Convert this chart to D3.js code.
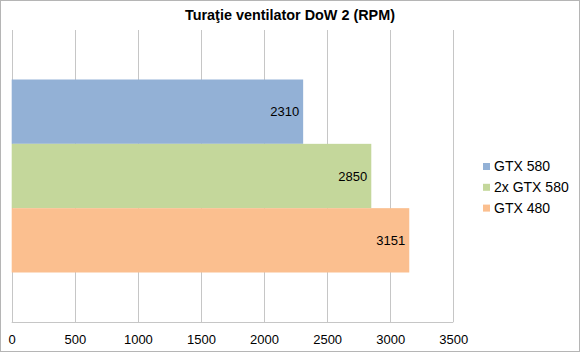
<!DOCTYPE html>
<html lang="ro">
<head>
<meta charset="utf-8">
<script src="https://d3js.org/d3.v7.min.js"></script>
<style>
    body { margin: 0; background: #fff; }
    svg { display: block; font-family: Arial, "Liberation Sans", sans-serif; }
</style>
</head>
<body>
<div id="chart"></div>
<script>
    const title = "Turaţie ventilator DoW 2 (RPM)";
    const category = ["DoW 2"];
    const series = ["GTX 580", "2x GTX 580", "GTX 480"];
    const values = [2310, 2850, 3151];
    const colors = ["#93b1d6", "#c4d79b", "#fbbf8f"];
    const ticks = [0, 500, 1000, 1500, 2000, 2500, 3000, 3500];

    var width = 580,
        height = 352,
        margin = {top: 30, right: 126.7, bottom: 30, left: 11.7};

    var svg = d3.select("#chart")
                .append("svg")
                .attr("width", width)
                .attr("height", height);

    // outer frame
    svg.append("rect")
        .attr("x", 0.5).attr("y", 0.5)
        .attr("width", width - 1).attr("height", height - 1)
        .attr("fill", "#fff")
        .attr("stroke", "#b5b5b5");

    svg.append("text")
        .attr("x", width / 2)
        .attr("y", 20)
        .attr("text-anchor", "middle")
        .attr("font-size", "14.4px")
        .attr("font-weight", "bold")
        .attr("fill", "#000")
        .text(title);

    var x = d3.scaleLinear()
                .domain([0, 3500])
                .range([margin.left, width - margin.right]);

    var y = d3.scaleBand()
                .domain(category)
                .range([margin.top, height - margin.bottom])
                .paddingInner(0)
                .paddingOuter(0.2565);

    var ys = d3.scaleBand()
                .domain(series)
                .range([0, y.bandwidth()]);

    var color = d3.scaleOrdinal()
                    .domain(series)
                    .range(colors);

    // vertical gridlines
    svg.append("g")
        .selectAll("line")
        .data(ticks)
        .join("line")
        .attr("x1", d => Math.round(x(d)) + 0.5)
        .attr("x2", d => Math.round(x(d)) + 0.5)
        .attr("y1", margin.top)
        .attr("y2", height - margin.bottom)
        .attr("stroke", "#c6c6c6");

    // bottom axis line
    svg.append("line")
        .attr("x1", x(0)).attr("x2", x(3500))
        .attr("y1", height - margin.bottom + 0.5)
        .attr("y2", height - margin.bottom + 0.5)
        .attr("stroke", "#c6c6c6");

    var xAxis = svg.append("g")
        .attr("transform", "translate(0," + (height - margin.bottom) + ")")
        .call(d3.axisBottom(x).tickValues(ticks).tickSize(0).tickPadding(12.5).tickFormat(d3.format("d")));
    xAxis.select(".domain").remove();
    xAxis.selectAll("text")
        .attr("font-size", "13px")
        .attr("font-family", "Arial, 'Liberation Sans', sans-serif")
        .attr("fill", "#000");

    var bars = svg.append("g")
        .selectAll("rect")
        .data(series)
        .join("rect")
        .attr("x", x(0))
        .attr("y", d => y(category[0]) + ys(d))
        .attr("width", (d, i) => x(values[i]) - x(0))
        .attr("height", ys.bandwidth())
        .attr("fill", d => color(d));

    svg.append("g")
        .selectAll("text")
        .data(series)
        .join("text")
        .attr("x", (d, i) => x(values[i]) - 4)
        .attr("y", d => y(category[0]) + ys(d) + ys.bandwidth() / 2)
        .attr("dy", "0.35em")
        .attr("text-anchor", "end")
        .attr("font-size", "13px")
        .attr("fill", "#000")
        .text((d, i) => values[i]);

    // legend
    var legend = svg.append("g")
        .attr("transform", "translate(483,166.5)");

    var item = legend.selectAll("g")
        .data(series)
        .join("g")
        .attr("transform", (d, i) => "translate(0," + (i * 20.8) + ")");

    item.append("rect")
        .attr("x", 0).attr("y", -3.5)
        .attr("width", 7).attr("height", 7)
        .attr("fill", d => color(d));

    item.append("text")
        .attr("x", 11)
        .attr("y", 0)
        .attr("dy", "0.35em")
        .attr("font-size", "14px")
        .attr("fill", "#000")
        .text(d => d);
</script>
</body>
</html>
